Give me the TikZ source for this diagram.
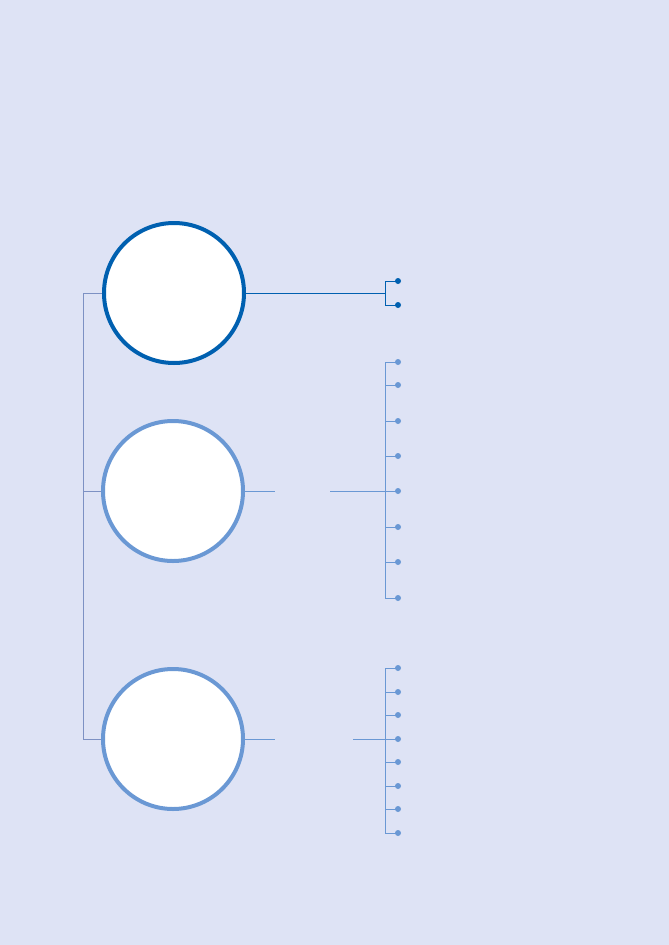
\documentclass[tikz,border=0pt]{standalone}
\usetikzlibrary{positioning}
\definecolor{fondo}{RGB}{222,227,245}
\definecolor{azul}{RGB}{0,96,176}
\definecolor{celeste}{RGB}{106,152,212}
\definecolor{gris}{RGB}{125,145,195}
\tikzset{
  circulo/.style={circle,draw=#1,line width=4pt,fill=white,minimum size=140pt,inner sep=0pt},
  rama/.style={draw=#1,line width=1pt},
  punto/.style={circle,fill=#1,inner sep=0pt,minimum size=6pt}
}
\begin{document}
\begin{tikzpicture}[x=1pt,y=-1pt]
   \fill[fondo] (0,0) rectangle (669,945);
   \useasboundingbox (0,0) rectangle (669,945);
   % circulos
   \node[circulo=azul] (uno) at (174,293) {};
   \node[circulo=celeste] (dos) at (173,491) {};
   \node[circulo=celeste] (tres) at (173,739) {};
   % llave de la izquierda
   \coordinate (l1) at (83,293);
   \coordinate (l2) at (83,491);
   \coordinate (l3) at (83,739);
   \draw[rama=gris] (uno.west) -- (l1) -- (l3) -- (tres.west)
   (l2) -- (dos.west);
   % primera rama
   \coordinate (a) at (385,293);
   \draw[rama=azul] (uno.east) -- (a);
   \draw[rama=azul] (a) -- (385,281) -- (398,281) node[punto=azul]{}
   (a) -- (385,305) -- (398,305) node[punto=azul]{};
   % segunda rama
   \coordinate (b1) at (275,491);
   \coordinate (b2) at (330,491);
   \coordinate (b) at (385,491);
   \draw[rama=celeste] (dos.east) -- (b1) (b2) -- (b);
   \draw[rama=celeste] (385,362) -- (385,598);
   \foreach \y in {362,385,421,456,491,527,562,598}
     \draw[rama=celeste] (385,\y) -- (398,\y) node[punto=celeste]{};
   % tercera rama
   \coordinate (c1) at (275,739);
   \coordinate (c2) at (353,739);
   \coordinate (c) at (385,739);
   \draw[rama=celeste] (tres.east) -- (c1) (c2) -- (c);
   \draw[rama=celeste] (385,668) -- (385,833);
   \foreach \y in {668,692,715,739,762,786,809,833}
     \draw[rama=celeste] (385,\y) -- (398,\y) node[punto=celeste]{};
\end{tikzpicture}
\end{document}
